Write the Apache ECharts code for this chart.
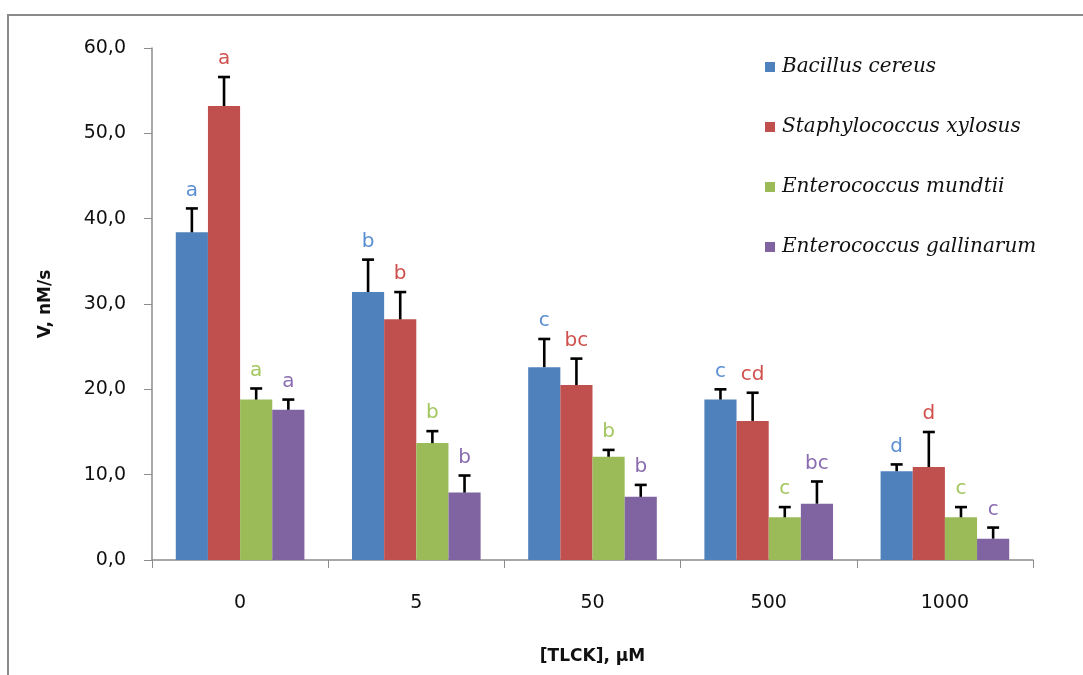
<!DOCTYPE html>
<html>
<head>
<meta charset="utf-8">
<script src="https://cdn.jsdelivr.net/npm/echarts@6/dist/echarts.min.js"></script>
<style>html,body{margin:0;padding:0;background:#fff}#c{width:1083px;height:675px}</style>
</head>
<body>
<div id="c"></div>
<script>
const categories = ['0', '5', '50', '500', '1000'];
const seriesNames = ['Bacillus cereus', 'Staphylococcus xylosus', 'Enterococcus mundtii', 'Enterococcus gallinarum'];
const bacillusValues = [38.4, 31.4, 22.6, 18.8, 10.4];
const staphValues = [53.2, 28.2, 20.5, 16.3, 10.9];
const mundtiiValues = [18.8, 13.7, 12.1, 5.0, 5.0];
const gallinarumValues = [17.6, 7.9, 7.4, 6.6, 2.5];
const bacillusErrors = [2.8, 3.8, 3.3, 1.2, 0.8];
const staphErrors = [3.4, 3.2, 3.1, 3.3, 4.1];
const mundtiiErrors = [1.3, 1.4, 0.8, 1.2, 1.2];
const gallinarumErrors = [1.2, 2.0, 1.4, 2.6, 1.3];
const bacillusLetters = ['a', 'b', 'c', 'c', 'd'];
const staphLetters = ['a', 'b', 'bc', 'cd', 'd'];
const mundtiiLetters = ['a', 'b', 'b', 'c', 'c'];
const gallinarumLetters = ['a', 'b', 'b', 'bc', 'c'];
const yTicks = [0, 10, 20, 30, 40, 50, 60];

const values = [bacillusValues, staphValues, mundtiiValues, gallinarumValues];
const errors = [bacillusErrors, staphErrors, mundtiiErrors, gallinarumErrors];
const letters = [bacillusLetters, staphLetters, mundtiiLetters, gallinarumLetters];
const colors = ['#4f81bd', '#c0504d', '#9bbb59', '#8064a2'];
const letterColors = ['#5b8fd2', '#d0504d', '#a3c65e', '#8a6cb0'];
const CAT_GAP = 0.27;

const chart = echarts.init(document.getElementById('c'), null, {renderer: 'canvas'});

const series = [];
values.forEach((vals, k) => {
  series.push({
    name: seriesNames[k],
    type: 'bar',
    data: vals,
    barGap: '0%',
    barCategoryGap: (CAT_GAP * 100) + '%',
    itemStyle: {color: colors[k]},
    z: 2
  });
});
values.forEach((vals, k) => {
  series.push({
    type: 'custom',
    name: seriesNames[k] + ' err',
    data: vals.map((v, i) => [i, v, errors[k][i]]),
    z: 5,
    silent: true,
    renderItem: function (params, api) {
      const cat = api.value(0), v = api.value(1), e = api.value(2);
      const base = api.coord([cat, v]);
      const top = api.coord([cat, v + e]);
      const bandW = api.size([1, 0])[0];
      const barW = bandW * (1 - CAT_GAP) / 4;
      const x = base[0] + (k - 1.5) * barW;
      const st = {stroke: '#000', lineWidth: 2.6};
      return {
        type: 'group',
        children: [
          {type: 'line', shape: {x1: x, y1: base[1], x2: x, y2: top[1]}, style: st},
          {type: 'line', shape: {x1: x - 6, y1: top[1], x2: x + 6, y2: top[1]}, style: st},
          {type: 'text', x: x, y: top[1] - 8, style: {
            text: letters[k][params.dataIndex], fill: letterColors[k],
            font: '20px "DejaVu Sans"', textAlign: 'center', textVerticalAlign: 'bottom'
          }}
        ]
      };
    }
  });
});

const option = {
  animation: false,
  backgroundColor: '#fff',
  graphic: [{
    type: 'rect', shape: {x: 8, y: 15, width: 1300, height: 900},
    style: {fill: 'none', stroke: '#8a8a8a', lineWidth: 2}, silent: true
  }],
  grid: {left: 152, right: 50, top: 48, bottom: 115},
  legend: {
    orient: 'vertical', left: 760, top: 52, itemGap: 40,
    itemWidth: 10, itemHeight: 10, icon: 'rect',
    data: seriesNames,
    textStyle: {fontFamily: 'DejaVu Serif', fontStyle: 'italic', fontSize: 20, color: '#111', padding: [0, 0, 0, 2]}
  },
  xAxis: {
    type: 'category', data: categories,
    axisLine: {lineStyle: {color: '#8c8c8c', width: 1.5}},
    axisTick: {show: true, length: 8, lineStyle: {color: '#8c8c8c'}},
    axisLabel: {fontFamily: 'DejaVu Sans', fontSize: 19, color: '#111', margin: 34},
    name: '[TLCK], µM', nameLocation: 'middle', nameGap: 88,
    nameTextStyle: {fontFamily: 'DejaVu Sans', fontWeight: 'bold', fontSize: 17, color: '#111'}
  },
  yAxis: {
    type: 'value', min: 0, max: 60, interval: 10,
    axisLine: {show: true, lineStyle: {color: '#8c8c8c', width: 1.5}},
    axisTick: {show: true, length: 8, lineStyle: {color: '#8c8c8c'}},
    splitLine: {show: false},
    axisLabel: {fontFamily: 'DejaVu Sans', fontSize: 19, color: '#111', margin: 26,
      formatter: v => yTicks.includes(v) ? v.toFixed(1).replace('.', ',') : ''},
    name: 'V, nM/s', nameLocation: 'middle', nameGap: 98, nameRotate: 90,
    nameTextStyle: {fontFamily: 'DejaVu Sans', fontWeight: 'bold', fontSize: 17, color: '#111'}
  },
  series: series
};
chart.setOption(option);
</script>
</body>
</html>
